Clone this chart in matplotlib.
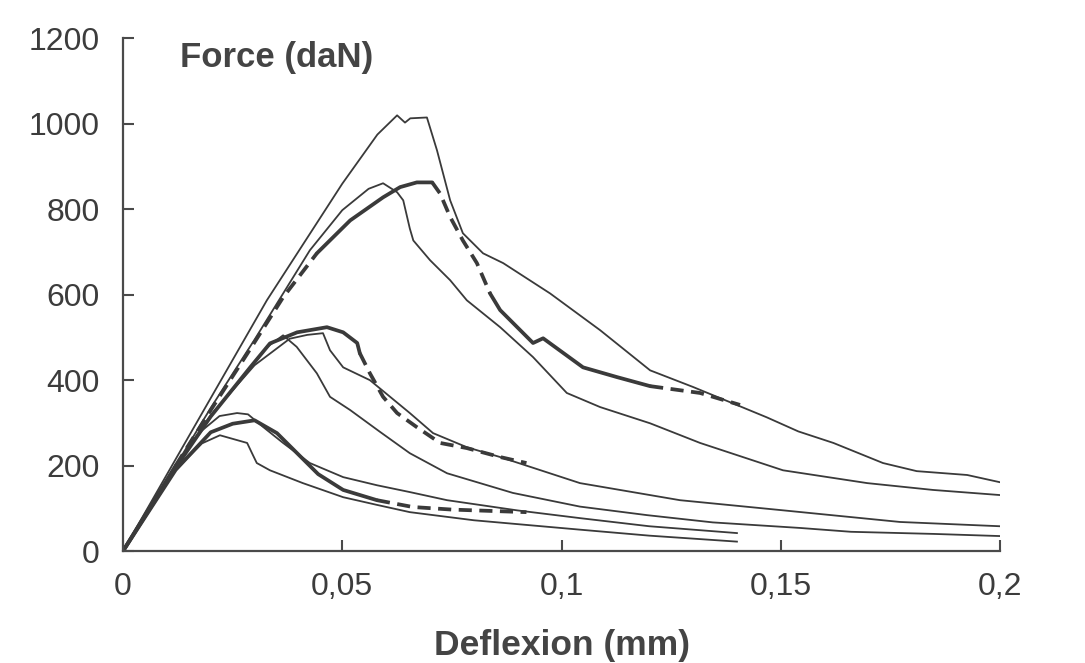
import numpy as np
import matplotlib
matplotlib.use("Agg")
import matplotlib.pyplot as plt

# ======== Data ========
# large load level: two tests (thin) + model (thick, partly dashed)
A_x = [0, 0.012, 0.0328, 0.05, 0.058, 0.0625, 0.0643, 0.0655, 0.0693, 0.0716, 0.0746,
       0.0775, 0.0821, 0.0867, 0.0974, 0.1088, 0.1202, 0.130, 0.139, 0.1468, 0.154,
       0.162, 0.1733, 0.181, 0.1925, 0.2]
A_y = [0, 215, 587, 860, 975, 1020, 1003, 1013, 1015, 938, 821,
       744, 697, 674, 603, 517, 423, 384, 346, 313, 280,
       253, 206, 187, 178, 161]

B_x = [0, 0.012, 0.02, 0.03, 0.0426, 0.05, 0.056, 0.0593, 0.0625, 0.0639, 0.0654,
       0.0662, 0.070, 0.0746, 0.0784, 0.086, 0.0935, 0.1012, 0.1088, 0.1202, 0.1316,
       0.1505, 0.1697, 0.1847, 0.2]
B_y = [0, 200, 335, 495, 704, 798, 848, 861, 840, 821, 755,
       727, 681, 634, 587, 524, 454, 370, 337, 299, 253,
       189, 159, 143, 131]

C_x = [0, 0.012, 0.02, 0.0282, 0.0365, 0.0442, 0.0518, 0.0593, 0.0632, 0.067, 0.0705,
       0.0723, 0.0746, 0.0775, 0.0807, 0.0837, 0.086, 0.0935, 0.0958, 0.1049, 0.1127,
       0.1202, 0.1316, 0.1407]
C_y = [0, 200, 330, 460, 594, 697, 774, 828, 852, 863, 863,
       837, 782, 727, 674, 603, 564, 487, 498, 430, 407,
       386, 370, 342]

# medium load level
D_x = [0, 0.012, 0.02, 0.0274, 0.0328, 0.0365, 0.0396, 0.0442, 0.0472, 0.0518, 0.0586,
       0.0654, 0.0739, 0.0889, 0.1042, 0.1195, 0.1345, 0.1544, 0.166, 0.185, 0.2]
D_y = [0, 200, 315, 407, 477, 505, 478, 416, 361, 330, 279,
       229, 182, 136, 104, 84, 67, 54, 45, 40, 35]

E_x = [0, 0.012, 0.02, 0.03, 0.038, 0.042, 0.0456, 0.0472, 0.0502, 0.0563, 0.0654,
       0.0707, 0.0784, 0.086, 0.1042, 0.127, 0.1498, 0.1772, 0.2]
E_y = [0, 200, 318, 435, 497, 506, 510, 470, 430, 400, 323,
       276, 243, 220, 159, 119, 96, 68, 58]

F_x = [0, 0.012, 0.02, 0.029, 0.0335, 0.0397, 0.0465, 0.0502, 0.0534, 0.054, 0.0563,
       0.0593, 0.0625, 0.067, 0.0723, 0.0784, 0.086, 0.092]
F_y = [0, 195, 315, 430, 486, 512, 524, 512, 487, 463, 416,
       361, 323, 290, 253, 241, 220, 206]

# small load level
G1_x = [0, 0.012, 0.018, 0.022, 0.026, 0.0285, 0.032, 0.0365, 0.0426, 0.0502, 0.0579,
        0.0654, 0.0739, 0.09, 0.1042, 0.12, 0.14]
G1_y = [0, 200, 282, 316, 323, 320, 290, 253, 206, 173, 154,
        138, 119, 95, 77, 58, 42]

G3_x = [0, 0.012, 0.018, 0.0221, 0.0283, 0.0296, 0.0305, 0.0335, 0.041, 0.0502, 0.0579,
        0.0654, 0.08, 0.1042, 0.12, 0.14]
G3_y = [0, 190, 252, 271, 253, 225, 206, 189, 159, 126, 108,
        91, 72, 50, 36, 22]

H_x = [0, 0.012, 0.02, 0.025, 0.03, 0.0351, 0.0397, 0.0445, 0.0502, 0.0579, 0.0661,
       0.075, 0.092]
H_y = [0, 190, 278, 298, 306, 276, 229, 180, 143, 119, 103,
       97, 91]

x_ticks = [0, 0.05, 0.1, 0.15, 0.2]
x_ticklabels = ["0", "0,05", "0,1", "0,15", "0,2"]
y_ticks = [0, 200, 400, 600, 800, 1000, 1200]

# ======== Style ========
plt.rcParams['font.family'] = ['Liberation Sans', 'DejaVu Sans']
ink = '#3a3a3a'
thin_lw = 1.3
thick_lw = 2.7
dash = (0, (3.5, 2))

fig = plt.figure(figsize=(10.85, 6.63), dpi=100)
ax = fig.add_axes([0.1134, 0.1689, 0.9217 - 0.1134, 0.942 - 0.1689])

for xs, ys in [(A_x, A_y), (B_x, B_y), (D_x, D_y), (E_x, E_y), (G1_x, G1_y), (G3_x, G3_y)]:
    ax.plot(xs, ys, color=ink, lw=thin_lw, solid_joinstyle='round')

def plot_model(xs, ys, dashed_ranges):
    xs = np.asarray(xs)
    ys = np.asarray(ys)
    # split at data points: dashed inside the given ranges, solid elsewhere
    bounds = sorted(set([xs[0], xs[-1]] + [b for r in dashed_ranges for b in r]))
    for a, b in zip(bounds[:-1], bounds[1:]):
        m = (xs >= a) & (xs <= b)
        is_dashed = any(a >= r[0] and b <= r[1] for r in dashed_ranges)
        ax.plot(xs[m], ys[m], color=ink, lw=thick_lw,
                linestyle=dash if is_dashed else '-',
                solid_capstyle='round', dash_capstyle='butt')

plot_model(C_x, C_y, [(0.012, 0.0442), (0.0705, 0.0837), (0.1202, 0.1407)])
plot_model(F_x, F_y, [(0.054, 0.092)])
plot_model(H_x, H_y, [(0.0579, 0.092)])

ax.set_xlim(0, 0.2)
ax.set_ylim(0, 1200)
ax.set_xticks(x_ticks)
ax.set_xticklabels(x_ticklabels)
ax.set_yticks(y_ticks)

for s in ['top', 'right']:
    ax.spines[s].set_visible(False)
for s in ['left', 'bottom']:
    ax.spines[s].set_color('#4a4a4a')
    ax.spines[s].set_linewidth(1.6)

ax.tick_params(direction='in', length=8, width=1.5, color='#4a4a4a',
               labelsize=23, labelcolor='#3c3c3c')
ax.tick_params(axis='y', pad=17)
ax.tick_params(axis='x', pad=15)

ax.text(0.013, 1155, "Force (daN)", fontsize=25, fontweight='bold',
        color='#444444', va='center', ha='left')
fig.text(0.518, 0.026, "Deflexion (mm)", fontsize=25.5, fontweight='bold',
         color='#444444', va='center', ha='center')

fig.savefig("out.png", dpi=100, facecolor='white')
